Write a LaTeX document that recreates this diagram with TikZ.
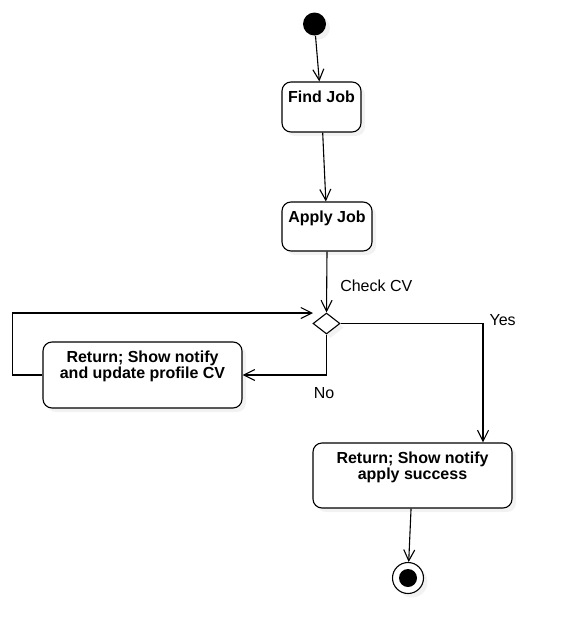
\documentclass[tikz,border=0pt]{standalone}
\usepackage{fontspec}
\setmainfont{Liberation Sans}
\usetikzlibrary{arrows.meta,shapes.geometric,shadows}

\begin{document}
\begin{tikzpicture}[x=1pt, y=-1pt, line width=1.1pt,
        softshadow/.style={drop shadow={shadow xshift=4pt, shadow yshift=-4pt, opacity=0.1}},
        actbox/.style={draw, fill=white, rounded corners=9pt, inner sep=0pt, softshadow},
        acttext/.style={anchor=north, yshift=-9pt, inner sep=0pt, align=center,
            font=\fontsize{16}{16}\selectfont\bfseries},
        elabel/.style={inner sep=0pt, font=\fontsize{16}{16}\selectfont},
        startnode/.style={circle, fill=black, minimum size=23pt, inner sep=0pt, softshadow},
        endnode/.style={circle, draw, fill=white, minimum size=31pt, inner sep=0pt, softshadow,
            path picture={\fill[black] (path picture bounding box.center) circle (9pt);}},
        decision/.style={diamond, draw, fill=white, minimum width=27pt, minimum height=21pt,
            inner sep=0pt, softshadow},
        flow/.style={-{Straight Barb[length=11pt, width=11pt]}}]
    \useasboundingbox (0,0) rectangle (563,643);

    % activities
    \node[startnode] (start) at (314.5,24) {};
    \node[actbox, minimum width=79pt, minimum height=50pt,
        label={[acttext]north:Find Job}] (find) at (321.5,107) {};
    \node[actbox, minimum width=90pt, minimum height=49pt,
        label={[acttext]north:Apply Job}] (apply) at (327,226.5) {};
    \node[decision] (check) at (326.5,323.5) {};
    \node[actbox, minimum width=199pt, minimum height=66pt,
        label={[acttext]north:{Return; Show notify\\and update profile CV}}] (retry) at (142.5,375) {};
    \node[actbox, minimum width=199pt, minimum height=65pt,
        label={[acttext]north:{Return; Show notify\\apply success}}] (success) at (412.5,475.5) {};
    \node[endnode] (end) at (408,578) {};
    \coordinate (loopin) at (313,313);

    % flows
    \draw[flow] (start) -- (find);
    \draw[flow] (find) -- (apply);
    \draw[flow] (apply.south) -- (check.north)
        node[elabel, pos=0.56, anchor=west, xshift=13pt] {Check CV};
    \draw[flow] (check.east) -| ([xshift=70.5pt]success.north)
        node[elabel, pos=0.5, anchor=west, xshift=6pt, yshift=3pt] {Yes};
    \draw[flow] (check.south) |- (retry.east)
        node[elabel, pos=0.5, anchor=north, xshift=-2.5pt, yshift=-11.5pt] {No};
    \draw[flow] (retry.west) -- ++(-30,0) |- (loopin);
    \draw[flow] (success) -- (end);
\end{tikzpicture}
\end{document}
